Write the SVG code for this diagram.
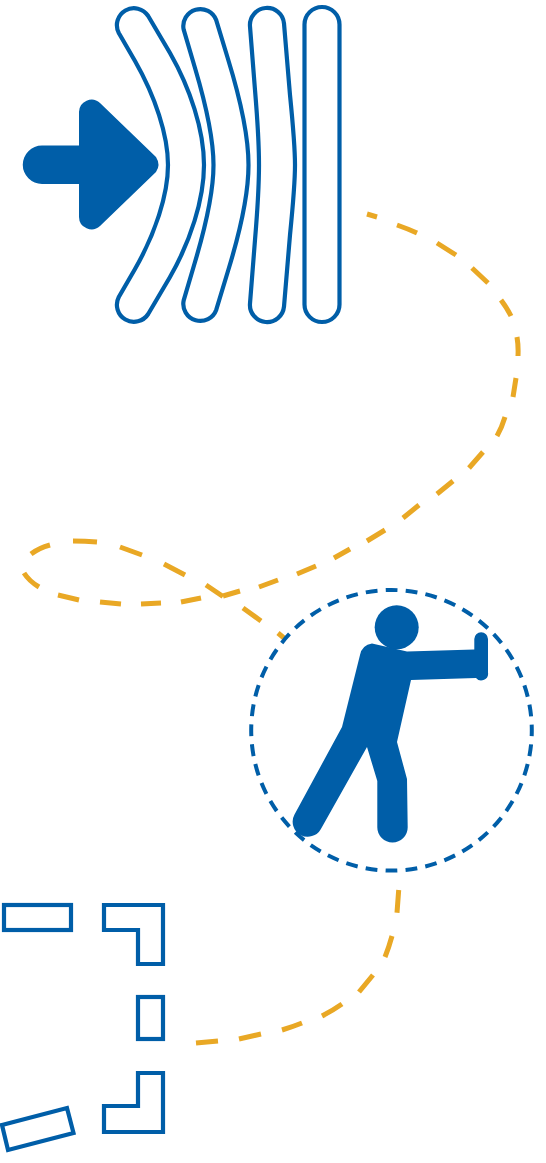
<svg xmlns="http://www.w3.org/2000/svg" width="546" height="1163" viewBox="0 0 546 1163">
<style>
.o{fill:none;stroke:#005ea8;stroke-width:4.200}
.f{fill:#005ea8}
.d{fill:none;stroke:#e9a825;stroke-width:5}
.r{fill:none;stroke:#005ea8;stroke-width:4.200}
</style>
<rect width="546" height="1163" fill="#fff"/>
<g id="connectors">
<path class="d" d="M367,214L377,217M397,225Q407,228.500 417,233M437,243L456,255M472,268L488,283M501,300Q507,308 511,316M517,337Q518.500,346 518,356M516,378L513,397M505,417Q502,427 497,436M483,452L469,468M453,481L437,494M419,505L403,518M385,530L367,541M350,549L334,558M316,566L297,574M278,580L259,587M240,591L223,596M201,598L181,602M161,603L141,604M121,604L100,602M79,600L58,595M39,587Q29,581 24,573M31,554Q39,548 50,545M73,541Q85,541 97,542M120,547L142,555M164,564L185,575M206,585L223,596.500M243,608L261,621M278,633L284,638"/>
<path class="d" d="M398.700,890L397,912.700M392,936Q389,947 385,957M373,975L359,992M342,1004Q332,1011 322,1016M302,1023Q292,1027 282,1030M261,1034L239,1039M218,1041L196,1043"/>
</g>
<g id="bend-1"><path class="o" d="M118.800,33 L135,61 C155,96 168,135 168,165 C168,195 155,234 135,269 L118.800,297 A17,17 0 0 0 148.200,314 L170,277 C190,242 204,200 204,165 C204,130 190,88 170,53 L148.200,16 A17,17 0 0 0 118.800,33 Z"/></g>
<g id="bend-2"><path class="o" d="M183.700,29.700 L195,68 C206,105 213.500,140 213.500,165 C213.500,190 206,225 195,262 L183.700,300.300 A17,17 0 0 0 216.300,309.700 L228,271 C240,232 248.500,195 248.500,165 C248.500,135 240,98 228,59 L216.300,20.300 A17,17 0 0 0 183.700,29.700 Z"/></g>
<g id="bend-3"><path class="o" d="M250,26.500 L255,90 C257.500,120 259,145 259,165 C259,185 257.500,210 255,240 L250,303.500 A17,17 0 0 0 284,306.500 L290,235 C293,205 295,185 295,165 C295,145 293,125 290,95 L284,23.500 A17,17 0 0 0 250,26.500 Z"/></g>
<g id="bend-4"><rect class="o" x="304.500" y="7" width="35" height="315" rx="17.500"/></g>
<g id="arrow"><path class="f" d="M79,112 A12.500,12.500 0 0 1 100,103 L156,157 Q161,165 156,172 L100,226 A12.500,12.500 0 0 1 79,217 V184 H42 A19,19 0 0 1 42,145.500 H79 Z"/></g>
<g id="person">
<circle cx="396.700" cy="627.300" r="22" class="f"/>
<path class="f" d="M360,655 Q362,645 372,643.500 L383,646 L407,651.500 L474.300,649.500 V639 A6.850,6.850 0 0 1 488,639 V672.500 A6.850,6.850 0 0 1 476,678 L411,680 L397,742 L407,779 L407.700,827.300 A15.200,15.200 0 0 1 377.300,827.300 L377.300,781 L367,747 L320.900,828.900 A15,15 0 0 1 294.500,814.500 L342,727 Z"/>
</g>
<g id="circle"><circle cx="391.500" cy="730.300" r="140.300" fill="none" stroke="#005ea8" stroke-width="4" stroke-dasharray="11.800 8.230" stroke-dashoffset="5.900"/></g>
<g id="pieces">
<rect class="r" x="4" y="905" width="67" height="25"/>
<path class="r" d="M104,905 H163 V964 H138 V930 H104 Z"/>
<rect class="r" x="138" y="997" width="25" height="42"/>
<path class="r" d="M138,1073 H163 V1132 H104 V1106 H138 Z"/>
<path class="r" d="M2,1125 L67,1108 L73.500,1133 L8,1150 Z"/>
</g>
</svg>
